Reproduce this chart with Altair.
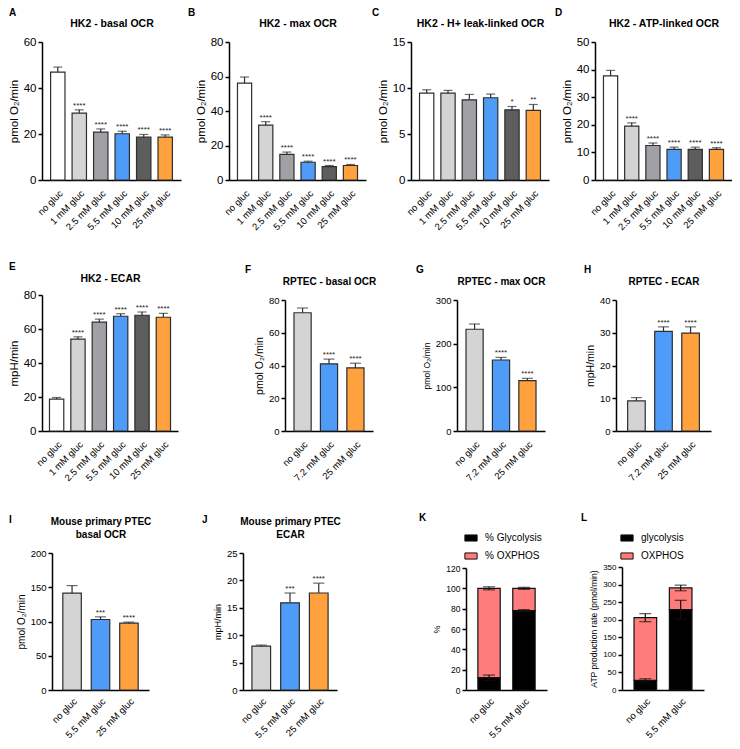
import altair as alt
import pandas as pd

FONT = "Liberation Sans"

# ---------------- data ----------------
cats_hk2 = ["no gluc", "1 mM gluc", "2.5 mM gluc", "5.5 mM gluc", "10 mM gluc", "25 mM gluc"]
cats_rptec = ["no gluc", "7.2 mM gluc", "25 mM gluc"]
cats_mouse = ["no gluc", "5.5 mM gluc", "25 mM gluc"]
cats_atp = ["no gluc", "5.5 mM gluc"]

colors_hk2 = ["#ffffff", "#d4d4d4", "#a1a1a5", "#4e9cf8", "#5d5d5d", "#ffa23e"]
colors_3 = ["#d4d4d4", "#4e9cf8", "#ffa23e"]
colors_atp = ["#000000", "#ff7c7c"]

stars_hk2 = ["", "****", "****", "****", "****", "****"]

a_vals = [46.9, 29.1, 20.8, 20.1, 18.6, 18.6]
a_errs = [2.2, 1.4, 1.4, 1.1, 1.2, 1.0]

b_vals = [56.2, 31.8, 14.8, 10.3, 7.8, 8.4]
b_errs = [3.5, 2.0, 1.4, 0.6, 0.6, 0.6]

c_vals = [9.44, 9.44, 8.72, 8.94, 7.63, 7.56]
c_errs = [0.37, 0.30, 0.58, 0.40, 0.36, 0.65]
c_stars = ["", "", "", "", "*", "**"]

d_vals = [37.7, 19.5, 12.5, 11.1, 11.1, 11.1]
d_errs = [2.0, 1.2, 0.9, 0.8, 0.8, 0.6]

e_vals = [18.8, 54.0, 64.0, 67.5, 68.1, 66.9]
e_errs = [0.9, 1.4, 1.8, 1.5, 1.9, 2.3]

f_vals = [72.2, 41.0, 38.6]
f_errs = [2.9, 2.9, 2.8]
stars_3 = ["", "****", "****"]

g_vals = [233, 162.6, 115.3]
g_errs = [12, 6, 5.3]

h_vals = [9.2, 30.4, 29.9]
h_errs = [1.0, 1.4, 1.9]

i_vals = [141.4, 102.9, 97.6]
i_errs = [11, 3.9, 1.5]
stars_mouse = ["", "***", "****"]

j_vals = [8.0, 15.9, 17.7]
j_errs = [0.2, 1.8, 1.8]

k_names = ["% Glycolysis", "% OXPHOS"]
k_glyc = [12.1, 78.1]
k_ox = [87.9, 21.9]
k_glyc_err = [2.6, 1.0]
k_tot_err = [1.5, 1.0]

l_names = ["glycolysis", "OXPHOS"]
l_glyc = [27.3, 228.6]
l_ox = [178.5, 61.8]
l_glyc_err = [4.7, 26.6]
l_tot_err = [11.5, 8.0]

OCR = "pmol O\u2082/min"
ECAR = "mpH/min"


def letter_title(letter, dx, offset):
    return alt.TitleParams(text=letter, anchor="start", frame="group", dx=dx,
                           offset=offset, fontSize=10, fontWeight="bold",
                           font=FONT, color="black")


def y_axis(ymax, ystep, title, lab_fs, tit_fs, offset=0):
    return alt.Axis(values=list(range(0, ymax + 1, ystep)), title=title, offset=offset,
                    labelFontSize=lab_fs, titleFontSize=tit_fs, tickSize=4,
                    labelPadding=2, titlePadding=4)


def bar_panel(letter, title, cats, colors, vals, errs, stars, ymax, ystep, ytitle,
              width, height, xr, yr, pi, po, ldx, loff, tpad,
              lab_fs=11.5, ytit_fs=11.5, xlab_fs=9.5, xlab_pad=8, title_fs=10.5, cap=9, yoffset=0):
    df = pd.DataFrame({"cat": cats, "val": vals, "err": errs, "star": stars})
    df["top"] = df["val"] + df["err"]
    xs = alt.Scale(domain=cats, range=xr, paddingInner=pi, paddingOuter=po)
    ys = alt.Scale(domain=[0, ymax], nice=False, zero=True, range=yr)
    ya = y_axis(ymax, ystep, ytitle, lab_fs, ytit_fs, yoffset)
    xa_bottom = alt.Axis(title=None, labelAngle=-45, labelFontSize=xlab_fs, ticks=False,
                         labelPadding=xlab_pad)
    xa_top = alt.Axis(orient="top", title=title, labels=False, ticks=False, domain=False,
                      titleFontSize=title_fs, titleFontWeight="bold", titlePadding=tpad,
                      titleFont=FONT, titleLineHeight=12.5)
    base = alt.Chart(df)
    bars = base.mark_bar(stroke="#2e2e2e", strokeWidth=1.2).encode(
        x=alt.X("cat:N", scale=xs, axis=xa_bottom),
        y=alt.Y("val:Q", scale=ys, axis=ya),
        fill=alt.Fill("cat:N", scale=alt.Scale(domain=cats, range=colors), legend=None),
    )
    rules = base.mark_rule(color="#2e2e2e", strokeWidth=1.2).encode(
        x=alt.X("cat:N", scale=xs, axis=xa_top),
        y=alt.Y("val:Q", scale=ys, axis=ya),
        y2="top:Q",
    )
    caps = base.mark_tick(color="#2e2e2e", size=cap, thickness=1.2).encode(
        x=alt.X("cat:N", scale=xs, axis=None),
        y=alt.Y("top:Q", scale=ys, axis=ya),
    )
    txt = base.mark_text(baseline="alphabetic", dy=-2, fontSize=8, color="#222222").encode(
        x=alt.X("cat:N", scale=xs, axis=None),
        y=alt.Y("top:Q", scale=ys, axis=ya),
        text="star:N",
    )
    return alt.layer(bars, rules, caps, txt).resolve_axis(x="independent").properties(
        width=width, height=height, title=letter_title(letter, ldx, loff))


def stack_panel(letter, cats, names, glyc, ox, glyc_err, tot_err, ymax, ystep, ytitle,
                width, height, xr, yr, pi, po, ldx, loff, lx, ly,
                lab_fs=8.5, ytit_fs=9, xlab_fs=9.5, xlab_pad=6, leg_fs=10):
    rows = []
    erows = []
    for c, g, o, ge, te in zip(cats, glyc, ox, glyc_err, tot_err):
        rows.append({"cat": c, "part": names[0], "y0": 0, "y1": g})
        rows.append({"cat": c, "part": names[1], "y0": g, "y1": g + o})
        erows.append({"cat": c, "lo": g - ge, "hi": g + ge})
        erows.append({"cat": c, "lo": g + o - te, "hi": g + o + te})
    df = pd.DataFrame(rows)
    de = pd.DataFrame(erows)
    xs = alt.Scale(domain=cats, range=xr, paddingInner=pi, paddingOuter=po)
    ys = alt.Scale(domain=[0, ymax], nice=False, zero=True, range=yr)
    ya = y_axis(ymax, ystep, ytitle, lab_fs, ytit_fs)
    xa = alt.Axis(title=None, labelAngle=-45, labelFontSize=xlab_fs, ticks=False,
                  labelPadding=xlab_pad)
    bars = alt.Chart(df).mark_bar(stroke="#111111", strokeWidth=1.2).encode(
        x=alt.X("cat:N", scale=xs, axis=xa),
        y=alt.Y("y1:Q", scale=ys, axis=ya),
        y2="y0:Q",
        fill=alt.Fill("part:N", scale=alt.Scale(domain=names, range=colors_atp),
                      legend=alt.Legend(orient="none", legendX=lx, legendY=ly, title=None,
                                        symbolType="M-1,-0.5H1V0.5H-1Z", symbolSize=150,
                                        symbolStrokeColor="#111111", symbolStrokeWidth=1,
                                        symbolOpacity=1,
                                        labelFontSize=leg_fs, labelFont=FONT, labelColor="black",
                                        labelOffset=7, rowPadding=5)),
    )
    rules = alt.Chart(de).mark_rule(color="#111111", strokeWidth=1.2).encode(
        x=alt.X("cat:N", scale=xs, axis=xa),
        y=alt.Y("lo:Q", scale=ys, axis=ya),
        y2="hi:Q",
    )
    cap_hi = alt.Chart(de).mark_tick(color="#111111", size=12, thickness=1.2).encode(
        x=alt.X("cat:N", scale=xs, axis=xa),
        y=alt.Y("hi:Q", scale=ys, axis=ya),
    )
    cap_lo = alt.Chart(de).mark_tick(color="#111111", size=12, thickness=1.2).encode(
        x=alt.X("cat:N", scale=xs, axis=xa),
        y=alt.Y("lo:Q", scale=ys, axis=ya),
    )
    return alt.layer(bars, rules, cap_hi, cap_lo).properties(
        width=width, height=height, title=letter_title(letter, ldx, loff))


# ---------------- row 1 ----------------
pA = bar_panel("A", "HK2 - basal OCR", cats_hk2, colors_hk2, a_vals, a_errs, stars_hk2,
               60, 20, OCR, 187, 138, [0, 139], [138, 0], 0.33, 0.4, -33, 0, 14)
pB = bar_panel("B", "HK2 - max OCR", cats_hk2, colors_hk2, b_vals, b_errs, stars_hk2,
               80, 20, OCR, 182, 138, [0, 137], [138, 0], 0.33, 0.4, -41, 0, 14)
pC = bar_panel("C", "HK2 - H+ leak-linked OCR", cats_hk2, colors_hk2, c_vals, c_errs, c_stars,
               15, 5, OCR, 184, 138, [0, 138], [138, 0], 0.33, 0.4, -39, 0, 14)
pD = bar_panel("D", "HK2 - ATP-linked OCR", cats_hk2, colors_hk2, d_vals, d_errs, stars_hk2,
               50, 10, OCR, 137, 138, [0, 137], [138, 0], 0.33, 0.4, -40, 0, 14)

# ---------------- row 2 ----------------
pE = bar_panel("E", "HK2 - ECAR", cats_hk2, colors_hk2, e_vals, e_errs, stars_hk2,
               80, 20, ECAR, 243, 136, [0, 136], [136, 0], 0.33, 0.35, -33, 1, 12)
pF = bar_panel("F", "RPTEC - basal OCR", cats_rptec, colors_3, f_vals, f_errs, stars_3,
               80, 20, OCR, 172, 136, [0, 88], [136, 5], 0.35, 0.34, -40, 1, 9,
               lab_fs=9.5, ytit_fs=10.5, title_fs=10, cap=11)
pG = bar_panel("G", "RPTEC - max OCR", cats_rptec, colors_3, g_vals, g_errs, stars_3,
               300, 100, OCR, 159, 136, [0, 88], [136, 5], 0.35, 0.34, -41, 1, 9,
               lab_fs=9.5, ytit_fs=8.5, title_fs=10, cap=11)
pH = bar_panel("H", "RPTEC - ECAR", cats_rptec, colors_3, h_vals, h_errs, stars_3,
               40, 10, ECAR, 95, 136, [0, 95], [136, 5], 0.35, 0.43, -32, 1, 9,
               lab_fs=9.5, ytit_fs=10.5, title_fs=10, cap=11)

# ---------------- row 3 ----------------
pI = bar_panel("I", ["Mouse primary PTEC", "basal OCR"], cats_mouse, colors_3, i_vals, i_errs,
               stars_mouse, 200, 50, OCR, 201, 137, [10, 107], [137, 0], 0.35, 0.38, -33, -8, 14,
               lab_fs=9.5, ytit_fs=10, title_fs=10, cap=11, yoffset=-10, xlab_pad=6)
pJ = bar_panel("J", ["Mouse primary PTEC", "ECAR"], cats_mouse, colors_3, j_vals, j_errs,
               stars_mouse, 25, 5, ECAR, 223, 137, [0, 94], [137, 0], 0.35, 0.31, -41, -8, 14,
               lab_fs=9.5, ytit_fs=9, title_fs=10, cap=11, xlab_pad=6)
pK = stack_panel("K", cats_atp, k_names, k_glyc, k_ox, k_glyc_err, k_tot_err, 120, 20, "%",
                 156, 137, [0, 81], [137, 15], 0.36, 0.34, -47, 8, -2, -22)
pL = stack_panel("L", cats_atp, l_names, l_glyc, l_ox, l_glyc_err, l_tot_err, 350, 50,
                 "ATP production rate (pmol/min)", 82, 137, [0, 82], [137, 14], 0.36, 0.34,
                 -41, 8, -2, -22, lab_fs=8, ytit_fs=8.5)

row1 = alt.hconcat(pA, pB, pC, pD, spacing=0, bounds="flush").resolve_scale(fill="independent")
row2 = alt.hconcat(pE, pF, pG, pH, spacing=0, bounds="flush").resolve_scale(fill="independent")
row3 = alt.hconcat(pI, pJ, pK, pL, spacing=0, bounds="flush").resolve_scale(fill="independent")

chart = alt.vconcat(row1, row2, row3, spacing=30).resolve_scale(fill="independent").properties(
    padding={"left": 0, "top": 0, "right": 0, "bottom": 0}
).configure_view(stroke=None).configure_axis(
    grid=False, domainColor="black", domainWidth=1.5, tickColor="black", tickWidth=1.5,
    labelColor="black", titleColor="black", labelFont=FONT, titleFont=FONT,
    titleFontWeight="normal"
).configure_title(font=FONT, color="black").configure_text(font=FONT)

chart.save("out.html", embed_options={"renderer": "svg", "actions": False})
